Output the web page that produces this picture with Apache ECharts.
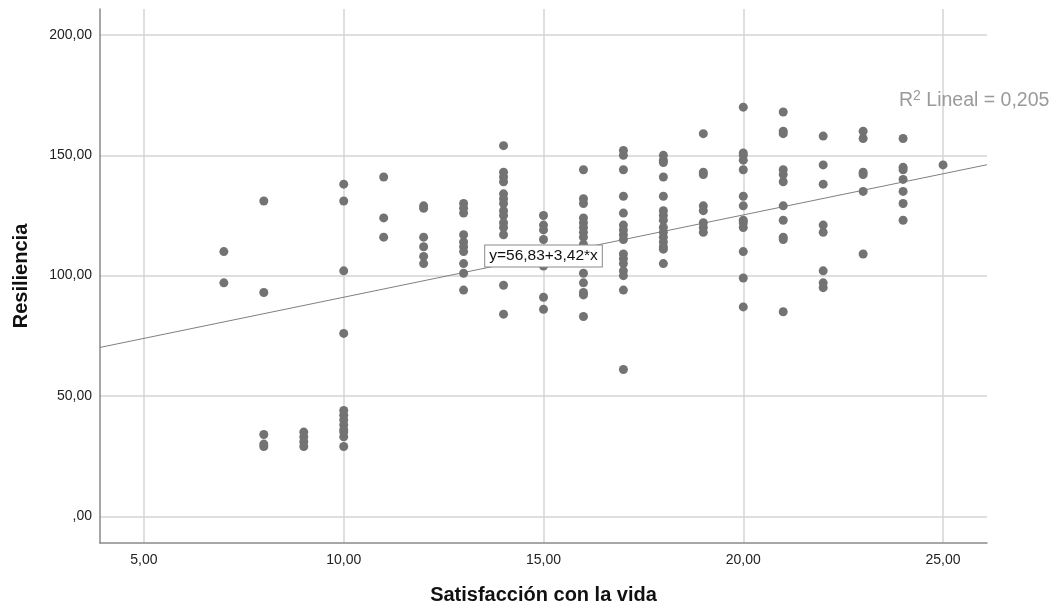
<!DOCTYPE html>
<html>
<head>
<meta charset="utf-8">
<script src="https://cdn.jsdelivr.net/npm/echarts@6/dist/echarts.min.js"></script>
<style>
html,body{margin:0;padding:0;background:#fff;}
#chart{width:1064px;height:608px;}
</style>
</head>
<body>
<div id="chart"></div>
<script>
// Satisfacción con la vida (x) values and the Resiliencia values observed at each
const satisfaccion = [7, 8, 9, 10, 11, 12, 13, 14, 15, 16, 17, 18, 19, 20, 21, 22, 23, 24, 25];
const resiliencia = [
  [110, 97],
  [131, 93, 34, 30, 29],
  [35, 33, 31, 29],
  [138, 131, 102, 76, 44, 42, 40, 38, 36, 35, 33, 29],
  [141, 124, 116],
  [129, 128, 116, 112, 108, 105],
  [130, 128, 126, 117, 114, 112, 110, 105, 101, 94],
  [154, 143, 141, 139, 134, 132, 130, 127, 125, 122, 120, 117, 96, 84],
  [125, 121, 119, 115, 110, 108, 104, 91, 86],
  [144, 132, 130, 124, 122, 120, 118, 116, 113, 110, 106, 101, 97, 93, 92, 83],
  [152, 150, 144, 133, 126, 121, 119, 117, 115, 109, 107, 105, 102, 100, 94, 61],
  [150, 148, 147, 141, 133, 127, 125, 123, 120, 118, 116, 114, 112, 111, 105],
  [159, 143, 142, 129, 127, 122, 120, 118],
  [170, 151, 150, 148, 144, 133, 129, 123, 122, 120, 110, 99, 87],
  [168, 160, 159, 144, 142, 139, 129, 123, 116, 115, 85],
  [158, 146, 138, 121, 118, 102, 97, 95],
  [160, 157, 143, 142, 135, 109],
  [157, 145, 144, 140, 135, 130, 123],
  [146]
];
// Linear fit
const intercept = [56.83];
const slope = [3.42];
const r2 = ['0,205'];
const eqLabelX = [15];
// Tick labels
const xTicks = [5, 10, 15, 20, 25];
const yTicks = [0, 50, 100, 150, 200];
const xRange = [3.9, 26.1];
const yRange = [-11.1, 210.8];

const points = [];
satisfaccion.forEach((x, i) => resiliencia[i].forEach(y => points.push([x, y])));
const fit = x => intercept[0] + slope[0] * x;
const fmt = v => v === 0 ? ',00' : v.toFixed(2).replace('.', ',');

const FONT = '"Liberation Sans", Arial, sans-serif';
const chart = echarts.init(document.getElementById('chart'), null, {renderer: 'canvas'});
chart.setOption({
  animation: false,
  backgroundColor: '#ffffff',
  textStyle: {fontFamily: FONT},
  grid: {left: 100, right: 77, top: 9, bottom: 65, containLabel: false, outerBoundsMode: 'none'},
  xAxis: {
    type: 'value', min: xRange[0], max: xRange[1],
    name: 'Satisfacción con la vida', nameLocation: 'middle', nameGap: 42,
    nameTextStyle: {fontFamily: FONT, fontWeight: 'bold', fontSize: 20, color: '#111'},
    axisLine: {show: true, onZero: false, lineStyle: {color: '#8a8a8a', width: 1.5}},
    axisTick: {show: false, customValues: xTicks},
    axisLabel: {customValues: xTicks, formatter: fmt, fontFamily: FONT, fontSize: 14, color: '#222', margin: 10},
    splitLine: {show: true, lineStyle: {color: '#d4d4d4', width: 1.5}}
  },
  yAxis: {
    type: 'value', min: yRange[0], max: yRange[1],
    name: 'Resiliencia', nameLocation: 'middle', nameGap: 69, nameRotate: 90,
    nameTextStyle: {fontFamily: FONT, fontWeight: 'bold', fontSize: 20, color: '#111'},
    axisLine: {show: true, onZero: false, lineStyle: {color: '#8a8a8a', width: 1.5}},
    axisTick: {show: false, customValues: yTicks},
    axisLabel: {customValues: yTicks, formatter: fmt, fontFamily: FONT, fontSize: 14, color: '#222', margin: 8},
    splitLine: {show: true, lineStyle: {color: '#d4d4d4', width: 1.5}}
  },
  series: [
    {
      type: 'line',
      data: [[xRange[0], fit(xRange[0])], [xRange[1], fit(xRange[1])]],
      showSymbol: false, symbol: 'none',
      lineStyle: {color: '#808080', width: 1},
      z: 3,
      markPoint: {
        symbol: 'rect', symbolSize: 0,
        data: [{coord: [eqLabelX[0], fit(eqLabelX[0])]}],
        label: {
          show: true, position: 'inside',
          formatter: 'y=' + intercept[0].toFixed(2).replace('.', ',') + '+' + slope[0].toFixed(2).replace('.', ',') + '*x',
          fontFamily: FONT, fontSize: 15.5, color: '#111',
          backgroundColor: '#ffffff', borderColor: '#8a8a8a', borderWidth: 1,
          padding: [3, 4, 2, 4]
        },
        z: 10
      }
    },
    {
      type: 'scatter',
      data: points,
      symbol: 'circle', symbolSize: 9,
      itemStyle: {color: '#737373', opacity: 1},
      z: 4
    }
  ],
  graphic: [
    {
      type: 'text', left: 899, top: 89,
      style: {
        text: '{r|R}{s|2}{r| Lineal = ' + r2[0] + '}',
        rich: {
          r: {fontFamily: FONT, fontSize: 19.5, fill: '#9a9a9a', verticalAlign: 'bottom'},
          s: {fontFamily: FONT, fontSize: 14, fill: '#9a9a9a', verticalAlign: 'top', padding: [0, 0, 8, 0]}
        }
      },
      z: 20
    }
  ]
});
</script>
</body>
</html>
